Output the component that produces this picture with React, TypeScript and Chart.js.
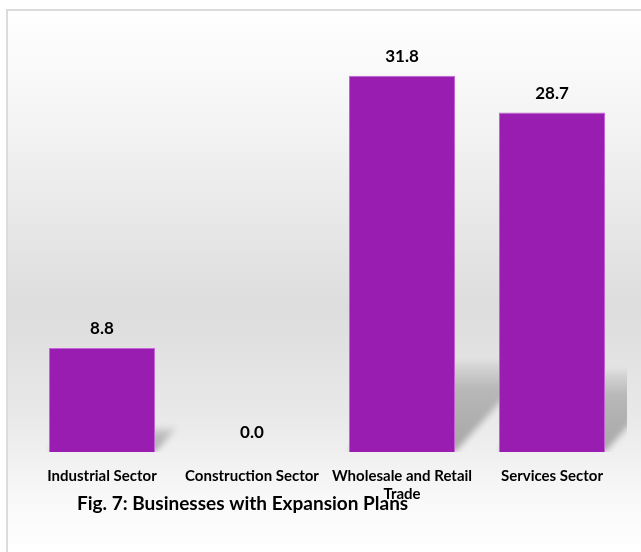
import React, { useEffect, useRef } from "react";
import { Chart, registerables } from "chart.js";

Chart.register(...registerables);

const categories: (string | string[])[] = [
  "Industrial Sector",
  "Construction Sector",
  ["Wholesale and Retail", "Trade"],
  "Services Sector",
];
const values: number[] = [8.8, 0.0, 31.8, 28.7];
const chartTitle = "Fig. 7: Businesses with Expansion Plans";

const FONT = "Lato, 'Open Sans', sans-serif";
const BAR_COLOR = "#991db0";
const BAR_BORDER = "#c466d6";

const backgroundPlugin = {
  id: "bgGradient",
  beforeDraw(chart: any) {
    const { ctx, width, height } = chart;
    const g = ctx.createLinearGradient(0, 0, 0, height);
    g.addColorStop(0, "#ffffff");
    g.addColorStop(0.2, "#f4f4f4");
    g.addColorStop(0.55, "#dddddd");
    g.addColorStop(0.75, "#e9e9e9");
    g.addColorStop(0.9, "#f8f8f8");
    g.addColorStop(1, "#ffffff");
    ctx.save();
    ctx.fillStyle = g;
    ctx.fillRect(0, 0, width, height);
    ctx.restore();
  },
};

const shadowPlugin = {
  id: "barShadow",
  beforeDatasetsDraw(chart: any) {
    const { ctx, chartArea } = chart;
    const meta = chart.getDatasetMeta(0);
    ctx.save();
    ctx.beginPath();
    ctx.rect(chartArea.left, chartArea.top - 50, chartArea.right - chartArea.left, chartArea.bottom - chartArea.top + 50);
    ctx.clip();
    meta.data.forEach((bar: any) => {
      const p = bar.getProps(["x", "y", "base", "width"], true);
      const h = p.base - p.y;
      if (h <= 1) return;
      const left = p.x - p.width / 2;
      const right = p.x + p.width / 2;
      const dy = h * 0.24;
      const dx = dy * 0.9;
      const g = ctx.createLinearGradient(0, p.base, 0, p.base - dy);
      g.addColorStop(0, "rgba(0,0,0,0.30)");
      g.addColorStop(0.7, "rgba(0,0,0,0.20)");
      g.addColorStop(1, "rgba(0,0,0,0.04)");
      ctx.filter = "blur(3px)";
      ctx.fillStyle = g;
      ctx.beginPath();
      ctx.moveTo(left, p.base);
      ctx.lineTo(right, p.base);
      ctx.lineTo(right + dx, p.base - dy);
      ctx.lineTo(left + dx, p.base - dy);
      ctx.closePath();
      ctx.fill();
    });
    ctx.filter = "none";
    ctx.restore();
  },
};

const labelPlugin = {
  id: "valueLabels",
  afterDatasetsDraw(chart: any) {
    const { ctx } = chart;
    const meta = chart.getDatasetMeta(0);
    ctx.save();
    ctx.fillStyle = "#000000";
    ctx.font = `bold 17px ${FONT}`;
    ctx.textAlign = "center";
    ctx.textBaseline = "middle";
    meta.data.forEach((bar: any, i: number) => {
      const p = bar.getProps(["x", "y"], true);
      ctx.fillText(values[i].toFixed(1), p.x, p.y - 19);
    });
    ctx.restore();
  },
};

const titlePlugin = {
  id: "figTitle",
  afterDraw(chart: any) {
    const { ctx, chartArea } = chart;
    ctx.save();
    ctx.fillStyle = "#000000";
    ctx.font = `bold 19px ${FONT}`;
    ctx.textAlign = "left";
    ctx.textBaseline = "middle";
    ctx.fillText(chartTitle, chartArea.left + 50, chartArea.bottom + 52);
    ctx.restore();
  },
};

export default function App() {
  const ref = useRef<HTMLCanvasElement | null>(null);

  useEffect(() => {
    if (!ref.current) return;
    const chart = new Chart(ref.current, {
      type: "bar",
      data: {
        labels: categories,
        datasets: [
          {
            data: values,
            backgroundColor: BAR_COLOR,
            borderColor: BAR_BORDER,
            borderWidth: 1,
            barPercentage: 0.707,
            categoryPercentage: 1,
          },
        ],
      },
      options: {
        animation: false,
        responsive: false,
        maintainAspectRatio: false,
        layout: { padding: { left: 19, right: 14, top: 27, bottom: 34 } },
        plugins: {
          legend: { display: false },
          tooltip: { enabled: false },
          title: { display: false },
        },
        scales: {
          x: {
            grid: { display: false, drawTicks: false },
            border: { display: false },
            ticks: {
              color: "#000000",
              font: { family: FONT, size: 15, weight: "bold", lineHeight: 1.2 },
              padding: 15,
              maxRotation: 0,
              autoSkip: false,
            },
          },
          y: {
            display: false,
            min: 0,
            max: 35,
          },
        },
      },
      plugins: [backgroundPlugin, shadowPlugin, labelPlugin, titlePlugin],
    });
    return () => chart.destroy();
  }, []);

  return (
    <div
      style={{
        position: "absolute",
        left: 6,
        top: 9,
        width: 640,
        height: 560,
        borderLeft: "2px solid #dcdcdc",
        borderTop: "2px solid #dcdcdc",
        boxSizing: "border-box",
        overflow: "hidden",
      }}
    >
      <canvas ref={ref} width={633} height={541} style={{ display: "block" }} />
    </div>
  );
}
